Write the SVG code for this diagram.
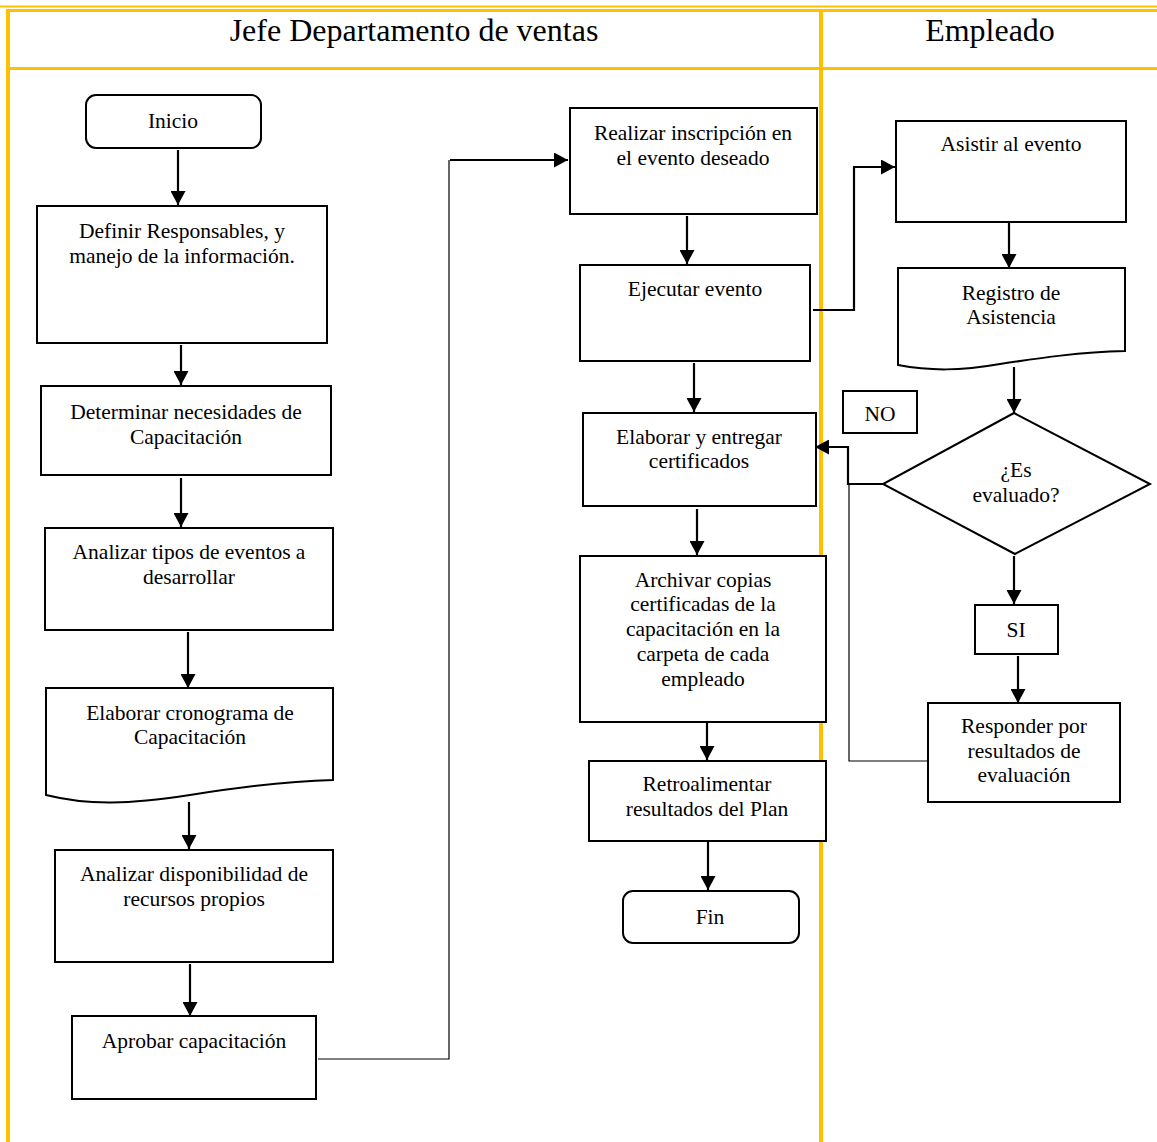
<svg xmlns="http://www.w3.org/2000/svg" width="1157" height="1142" viewBox="0 0 1157 1142">
  <style>
    .lane { stroke: #FFC000; fill: none; }
    .box { fill: #ffffff; stroke: #000000; stroke-width: 2; }
    .lbl { font-family: "Liberation Serif", "Times New Roman", serif; font-size: 21.5px; fill: #000000; text-anchor: middle; }
    .hdr { font-family: "Liberation Serif", "Times New Roman", serif; font-size: 32px; fill: #000000; text-anchor: middle; }
    .flow { fill: none; stroke: #000000; stroke-width: 2.2; }
    .thin { fill: none; stroke: #000000; stroke-width: 1.2; }
  </style>
  <defs>
    <marker id="arrow" markerUnits="userSpaceOnUse" markerWidth="15" markerHeight="15" refX="14" refY="7.5" orient="auto">
      <path d="M0,0 L14,7.5 L0,15 Z" fill="#000000"/>
    </marker>
  </defs>

  <rect width="1157" height="1142" fill="#ffffff"/>

  <!-- swimlane frame -->
  <g id="lanes">
    <line class="lane" x1="0" y1="6.5" x2="1157" y2="6.5" stroke-width="2"/>
    <line class="lane" x1="6" y1="10.5" x2="1157" y2="10.5" stroke-width="3"/>
    <line class="lane" x1="8" y1="9" x2="8" y2="1142" stroke-width="4"/>
    <line class="lane" x1="821" y1="9" x2="821" y2="1142" stroke-width="4"/>
    <line class="lane" x1="6" y1="68.5" x2="1157" y2="68.5" stroke-width="3"/>
    <text class="hdr" x="414" y="41">Jefe Departamento de ventas</text>
    <text class="hdr" x="990" y="41">Empleado</text>
  </g>

  <!-- connectors -->
  <g id="connectors">
    <line class="flow" x1="178" y1="150" x2="178" y2="205" marker-end="url(#arrow)"/>
    <line class="flow" x1="181" y1="345" x2="181" y2="385" marker-end="url(#arrow)"/>
    <line class="flow" x1="181" y1="478" x2="181" y2="527" marker-end="url(#arrow)"/>
    <line class="flow" x1="188" y1="632" x2="188" y2="688" marker-end="url(#arrow)"/>
    <line class="flow" x1="189" y1="802" x2="189" y2="849" marker-end="url(#arrow)"/>
    <line class="flow" x1="190" y1="964" x2="190" y2="1016" marker-end="url(#arrow)"/>
    <polyline class="thin" points="318,1059 449,1059 449,160"/>
    <line class="flow" x1="450" y1="160" x2="568" y2="160" marker-end="url(#arrow)"/>
    <line class="flow" x1="687" y1="216" x2="687" y2="264" marker-end="url(#arrow)"/>
    <polyline class="flow" points="813,310 854,310 854,167 895,167" marker-end="url(#arrow)"/>
    <line class="flow" x1="694" y1="363" x2="694" y2="412" marker-end="url(#arrow)"/>
    <line class="flow" x1="697" y1="509" x2="697" y2="555" marker-end="url(#arrow)"/>
    <line class="flow" x1="707" y1="714" x2="707" y2="760" marker-end="url(#arrow)"/>
    <line class="flow" x1="708" y1="842" x2="708" y2="890" marker-end="url(#arrow)"/>
    <line class="flow" x1="1009" y1="222" x2="1009" y2="268" marker-end="url(#arrow)"/>
    <line class="flow" x1="1014" y1="367" x2="1014" y2="413" marker-end="url(#arrow)"/>
    <polyline class="flow" points="883,484 848,484 848,447 815,447" marker-end="url(#arrow)"/>
    <polyline class="thin" points="849,484 849,761 930,761"/>
    <line class="flow" x1="1014" y1="556" x2="1014" y2="604" marker-end="url(#arrow)"/>
    <line class="flow" x1="1018" y1="656" x2="1018" y2="703" marker-end="url(#arrow)"/>
  </g>

  <!-- Jefe Departamento de ventas lane -->
  <g id="inicio">
    <rect class="box" x="86" y="95" width="175" height="53" rx="10"/>
    <text class="lbl" x="173" y="128">Inicio</text>
  </g>
  <g id="definir">
    <rect class="box" x="37" y="206" width="290" height="137"/>
    <text class="lbl" x="182" y="238">Definir Responsables, y</text>
    <text class="lbl" x="182" y="263">manejo de la información.</text>
  </g>
  <g id="determinar">
    <rect class="box" x="41" y="386" width="290" height="89"/>
    <text class="lbl" x="186" y="419">Determinar necesidades de</text>
    <text class="lbl" x="186" y="444">Capacitación</text>
  </g>
  <g id="analizar-tipos">
    <rect class="box" x="45" y="528" width="288" height="102"/>
    <text class="lbl" x="189" y="559">Analizar tipos de eventos a</text>
    <text class="lbl" x="189" y="584">desarrollar</text>
  </g>
  <g id="cronograma">
    <path class="box" d="M46,688 H333 V780 C290,781 240,787 190,795 C130,804 90,806 46,795 Z"/>
    <text class="lbl" x="190" y="720">Elaborar cronograma de</text>
    <text class="lbl" x="190" y="744">Capacitación</text>
  </g>
  <g id="disponibilidad">
    <rect class="box" x="55" y="850" width="278" height="112"/>
    <text class="lbl" x="194" y="881">Analizar disponibilidad de</text>
    <text class="lbl" x="194" y="906">recursos propios</text>
  </g>
  <g id="aprobar">
    <rect class="box" x="72" y="1016" width="244" height="83"/>
    <text class="lbl" x="194" y="1048">Aprobar capacitación</text>
  </g>
  <g id="inscripcion">
    <rect class="box" x="570" y="108" width="247" height="106"/>
    <text class="lbl" x="693" y="140">Realizar inscripción en</text>
    <text class="lbl" x="693" y="165">el evento deseado</text>
  </g>
  <g id="ejecutar">
    <rect class="box" x="580" y="265" width="230" height="96"/>
    <text class="lbl" x="695" y="296">Ejecutar evento</text>
  </g>
  <g id="certificados">
    <rect class="box" x="583" y="413" width="233" height="93"/>
    <text class="lbl" x="699" y="444">Elaborar y entregar</text>
    <text class="lbl" x="699" y="468">certificados</text>
  </g>
  <g id="archivar">
    <rect class="box" x="580" y="556" width="246" height="166"/>
    <text class="lbl" x="703" y="587">Archivar copias</text>
    <text class="lbl" x="703" y="611">certificadas de la</text>
    <text class="lbl" x="703" y="636">capacitación en la</text>
    <text class="lbl" x="703" y="661">carpeta de cada</text>
    <text class="lbl" x="703" y="686">empleado</text>
  </g>
  <g id="retroalimentar">
    <rect class="box" x="589" y="761" width="237" height="80"/>
    <text class="lbl" x="707" y="791">Retroalimentar</text>
    <text class="lbl" x="707" y="816">resultados del Plan</text>
  </g>
  <g id="fin">
    <rect class="box" x="623" y="891" width="176" height="52" rx="10"/>
    <text class="lbl" x="710" y="924">Fin</text>
  </g>

  <!-- Empleado lane -->
  <g id="asistir">
    <rect class="box" x="896" y="121" width="230" height="101"/>
    <text class="lbl" x="1011" y="151">Asistir al evento</text>
  </g>
  <g id="registro">
    <path class="box" d="M898,268 H1125 V351 C1080,352 1040,358 1000,364 C960,371 930,371 898,365 Z"/>
    <text class="lbl" x="1011" y="300">Registro de</text>
    <text class="lbl" x="1011" y="324">Asistencia</text>
  </g>
  <g id="evaluado">
    <polygon class="box" points="1014,413 1150,484 1015,554 883,484"/>
    <text class="lbl" x="1016" y="477">¿Es</text>
    <text class="lbl" x="1016" y="502">evaluado?</text>
  </g>
  <g id="no">
    <rect class="box" x="843" y="391" width="74" height="42"/>
    <text class="lbl" x="880" y="421">NO</text>
  </g>
  <g id="si">
    <rect class="box" x="975" y="605" width="83" height="49"/>
    <text class="lbl" x="1016" y="637">SI</text>
  </g>
  <g id="responder">
    <rect class="box" x="928" y="703" width="192" height="99"/>
    <text class="lbl" x="1024" y="733">Responder por</text>
    <text class="lbl" x="1024" y="758">resultados de</text>
    <text class="lbl" x="1024" y="782">evaluación</text>
  </g>
</svg>
